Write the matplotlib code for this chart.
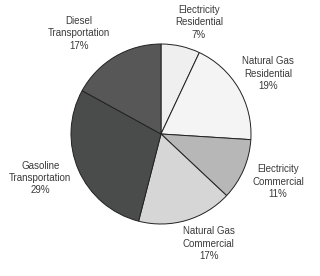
import matplotlib
matplotlib.use("Agg")
import matplotlib.pyplot as plt

# slices, clockwise from 12 o'clock
labels = ["Electricity\nResidential", "Natural Gas\nResidential", "Electricity\nCommercial",
          "Natural Gas\nCommercial", "Gasoline\nTransportation", "Diesel\nTransportation"]
shares = [7, 19, 11, 17, 29, 17]
colors = ["#efefef", "#f4f4f4", "#b7b7b7", "#d6d6d6", "#4a4b4b", "#575757"]

# label block centres, in pie radii
label_pos = [(0.42, 1.24), (1.19, 0.67), (1.30, -0.53),
             (0.53, -1.22), (-1.34, -0.49), (-0.91, 1.12)]

plt.rcParams['font.family'] = ['Liberation Sans', 'DejaVu Sans']

fig = plt.figure(figsize=(3.2, 2.76), dpi=100)
ax = fig.add_axes([0, 0, 1, 1])

ax.pie(shares, colors=colors, startangle=90, counterclock=False, radius=1,
       wedgeprops={'edgecolor': '#222222', 'linewidth': 0.7})

for lab, s, (x, y) in zip(labels, shares, label_pos):
    ax.text(x, y, f"{lab}\n{s}%", ha='center', va='center', fontsize=7.0,
            color='#3a3a3a', linespacing=1.3)

ax.set_xlim(-161 / 90, (320 - 161) / 90)
ax.set_ylim(-(276 - 134) / 90, 134 / 90)
ax.set_aspect('equal', adjustable='box')
ax.axis('off')

fig.savefig("out.png", dpi=100)
